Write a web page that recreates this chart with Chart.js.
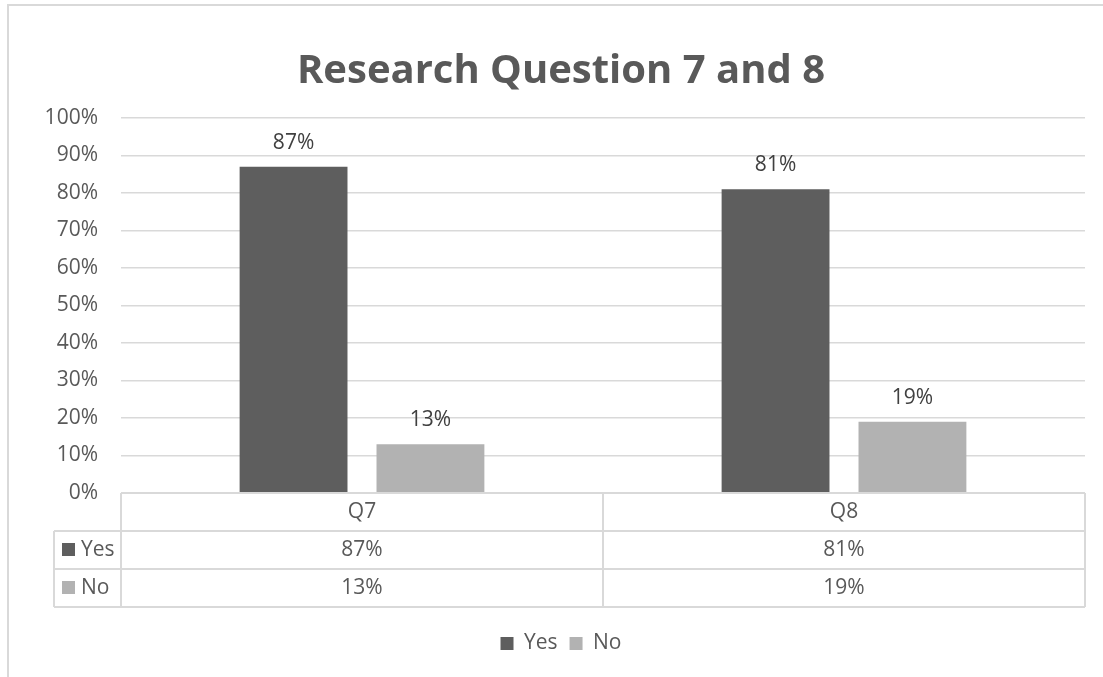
<!DOCTYPE html>
<html>
<head>
<meta charset="utf-8">
<script src="https://cdn.jsdelivr.net/npm/chart.js@4"></script>
<style>
  html, body { margin: 0; padding: 0; background: #ffffff; overflow: hidden; }
  #wrap { position: absolute; left: 0; top: 0; width: 1122px; height: 677px; }
</style>
</head>
<body>
<div id="wrap"><canvas id="chart1" width="1122" height="677"></canvas></div>
<script>
const categories = ["Q7", "Q8"];
const yesValues = [87, 81];
const noValues = [13, 19];
const yTicks = [0, 10, 20, 30, 40, 50, 60, 70, 80, 90, 100];

const FONT = "'Open Sans', 'Noto Sans', sans-serif";
const TEXT = "#595959";
const LINE = "#d9d9d9";

// data table under the plot, value labels over the bars, outer frame
const tablePlugin = {
    id: "dataTable",
    afterDatasetsDraw(chart) {
        const ctx = chart.ctx;
        ctx.save();
        ctx.font = "21px " + FONT;
        ctx.fillStyle = "#404040";
        ctx.textAlign = "center";
        ctx.textBaseline = "alphabetic";
        chart.data.datasets.forEach((ds, i) => {
            chart.getDatasetMeta(i).data.forEach((bar, j) => {
                ctx.fillText(ds.data[j] + "%", bar.x, bar.y - 18);
            });
        });
        ctx.restore();
    },
    afterDraw(chart) {
        const ctx = chart.ctx;
        const area = chart.chartArea;
        const x = chart.scales.x;
        const rowH = 38;
        const top = area.bottom;
        const keyLeft = 54;
        const rows = [top, top + rowH, top + rowH * 2, top + rowH * 3];
        const cols = [area.left];
        for (let i = 0; i < categories.length; i++) {
            const c = x.getPixelForTick(i);
            cols.push(i < categories.length - 1 ? (c + x.getPixelForTick(i + 1)) / 2 : area.right);
        }

        ctx.save();
        ctx.strokeStyle = LINE;
        ctx.lineWidth = 2;
        ctx.beginPath();
        // header row
        ctx.moveTo(area.left, rows[0]); ctx.lineTo(area.right, rows[0]);
        for (let r = 1; r < rows.length; r++) {
            ctx.moveTo(keyLeft, rows[r]); ctx.lineTo(area.right, rows[r]);
        }
        cols.forEach(cx => { ctx.moveTo(cx, rows[0]); ctx.lineTo(cx, rows[3]); });
        ctx.moveTo(keyLeft, rows[1]); ctx.lineTo(keyLeft, rows[3]);
        // outer frame of the chart
        ctx.moveTo(8, 677); ctx.lineTo(8, 5); ctx.lineTo(1122, 5);
        ctx.stroke();

        ctx.font = "21px " + FONT;
        ctx.fillStyle = TEXT;
        ctx.textAlign = "center";
        ctx.textBaseline = "middle";
        categories.forEach((cat, i) => {
            const cx = x.getPixelForTick(i);
            ctx.fillText(cat, cx, rows[0] + rowH / 2);
            chart.data.datasets.forEach((ds, k) => {
                ctx.fillText(ds.data[i] + "%", cx, rows[k + 1] + rowH / 2);
            });
        });
        ctx.textAlign = "left";
        chart.data.datasets.forEach((ds, k) => {
            const cy = rows[k + 1] + rowH / 2;
            ctx.fillStyle = ds.backgroundColor;
            ctx.fillRect(62, cy - 7, 13, 13);
            ctx.fillStyle = TEXT;
            ctx.fillText(ds.label, 81, cy);
        });
        ctx.restore();
    }
};

const chart1 = document.getElementById("chart1");
const stat1 = new Chart(chart1, {
    type: "bar",
    data: {
        labels: categories,
        datasets: [{
            label: "Yes",
            backgroundColor: "#5e5e5e",
            data: yesValues,
        }, {
            label: "No",
            backgroundColor: "#b2b2b2",
            data: noValues,
        }],
    },
    options: {
        responsive: false,
        animation: false,
        categoryPercentage: 0.568,
        barPercentage: 0.788,
        layout: { padding: { left: 37, right: 37, top: 0, bottom: 13 } },
        plugins: {
            title: {
                display: true,
                text: "Research Question 7 and 8",
                color: TEXT,
                font: { family: FONT, size: 40, weight: "bold" },
                padding: { top: 48, bottom: 22 },
            },
            legend: {
                position: "bottom",
                labels: {
                    color: TEXT,
                    font: { family: FONT, size: 21 },
                    boxWidth: 13,
                    boxHeight: 13,
                    padding: 12,
                },
            },
            tooltip: { enabled: false },
        },
        scales: {
            x: {
                grid: { display: false, drawTicks: false },
                border: { display: false },
                ticks: { display: false },
                afterFit(scale) { scale.height = 128; },
            },
            y: {
                min: 0,
                max: 100,
                afterBuildTicks(scale) { scale.ticks = yTicks.map(v => ({ value: v })); },
                afterFit(scale) { scale.width = 84; },
                grid: { color: LINE, lineWidth: 1.5, drawTicks: false },
                border: { display: false },
                ticks: {
                    color: TEXT,
                    padding: 23,
                    font: { family: FONT, size: 21 },
                    callback: v => v + "%",
                },
            },
        },
    },
    plugins: [tablePlugin],
});
</script>
</body>
</html>
